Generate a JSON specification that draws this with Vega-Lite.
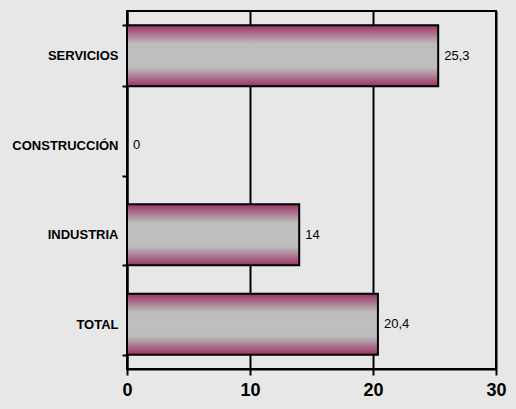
{
  "$schema": "https://vega.github.io/schema/vega-lite/v6.json",
  "width": 369,
  "height": 358,
  "autosize": "none",
  "padding": {"left": 127, "top": 11, "right": 20, "bottom": 40},
  "background": "#e7e7e7",
  "data": {"values": [
    {"sector": "SERVICIOS", "value": 25.3, "label": "25,3"},
    {"sector": "CONSTRUCCIÓN", "value": 0, "label": "0"},
    {"sector": "INDUSTRIA", "value": 14, "label": "14"},
    {"sector": "TOTAL", "value": 20.4, "label": "20,4"}
  ]},
  "encoding": {
    "y": {"field": "sector", "type": "nominal", "sort": ["SERVICIOS", "CONSTRUCCIÓN", "INDUSTRIA", "TOTAL"],
      "scale": {"paddingInner": 0.32, "paddingOuter": 0.16},
      "axis": {"title": null, "labelFont": "Liberation Sans", "labelFontWeight": "bold", "labelFontSize": 13, "labelColor": "black",
        "domainColor": "black", "domainWidth": 2, "tickColor": "black", "tickWidth": 2, "tickSize": 5, "tickBand": "extent", "labelPadding": 4}},
    "x": {"field": "value", "type": "quantitative", "scale": {"domain": [0, 30]},
      "axis": {"title": null, "values": [0, 10, 20, 30], "labelFont": "Liberation Sans", "labelFontWeight": "bold", "labelFontSize": 18, "labelColor": "black", "labelOverlap": false, "labelFlush": false,
        "domainColor": "black", "domainWidth": 2, "tickColor": "black", "tickWidth": 2, "tickSize": 6, "labelPadding": 6,
        "grid": true, "gridColor": "black", "gridWidth": 2, "gridOpacity": 1}}
  },
  "layer": [
    {"mark": {"type": "bar", "stroke": "black", "strokeWidth": 2,
      "fill": {"gradient": "linear", "x1": 0, "y1": 0, "x2": 0, "y2": 1,
        "stops": [{"offset": 0, "color": "#993366"}, {"offset": 0.3, "color": "#bcbcbc"}, {"offset": 0.5, "color": "#c0c0c0"}, {"offset": 0.7, "color": "#bcbcbc"}, {"offset": 1, "color": "#993366"}]}}},
    {"mark": {"type": "text", "align": "left", "dx": 6, "font": "Liberation Sans", "fontSize": 13, "color": "black"},
      "encoding": {"text": {"field": "label"}}}
  ],
  "config": {"view": {"stroke": "black", "strokeWidth": 2}}
}
